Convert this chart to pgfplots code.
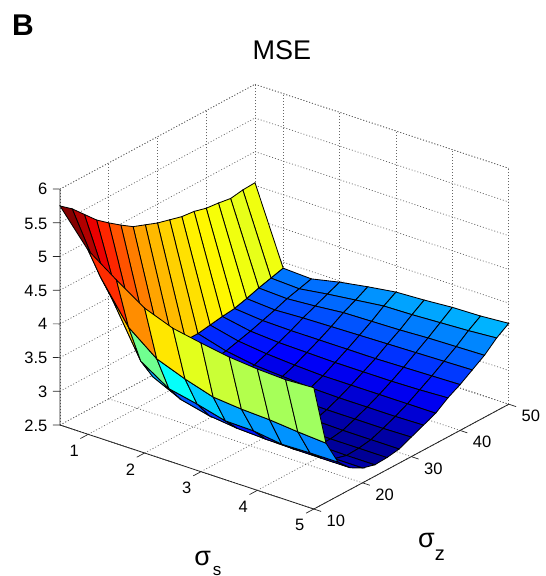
\documentclass[border=0pt]{standalone}
\usepackage{fontspec}
\setmainfont{Liberation Sans}
\usepackage{pgfplots}
\pgfplotsset{compat=1.18}
\usetikzlibrary{calc}
\begin{document}
\begin{tikzpicture}
\begin{axis}[
  name=ax,
  x={(56.4pt,-18.67pt)}, y={(4.875pt,2.62pt)}, z={(0pt,67.4pt)},
  xmin=0.5, xmax=5, ymin=10, ymax=50, zmin=2.5, zmax=6,
  xtick={1,2,3,4,5}, ytick={10,20,30,40,50},
  ztick={2.5,3,3.5,4,4.5,5,5.5,6},
  zticklabels={2.5,3,3.5,4,4.5,5,5.5,6},
  3d box=background,
  axis line style={draw=black!60, dash pattern=on 1pt off 2pt, line width=0.7pt},
  grid=major,
  major grid style={draw=black!60, dash pattern=on 1pt off 2pt, line width=0.7pt},
  tick align=outside,
  tick pos=left,
  major tick length=7pt,
  tick style={draw=none},
  tick label style={font=\fontsize{16.5}{16.5}\selectfont},
  x tick label style={xshift=-2pt,yshift=-3pt},
  y tick label style={xshift=7pt,yshift=2pt},
  z tick label style={xshift=-3pt,yshift=4pt},
  /pgf/number format/assume math mode=true,
  colormap={myjet}{rgb255=(0,0,128) rgb255=(0,0,255) rgb255=(0,128,255) rgb255=(0,255,255) rgb255=(128,255,128) rgb255=(255,255,0) rgb255=(255,128,0) rgb255=(255,0,0) rgb255=(128,0,0)},
  point meta min=2.6, point meta max=5.76,
  clip=false,
  title={\fontsize{27}{27}\selectfont MSE},
  title style={at={(axis cs:0.24,58.5,6)},anchor=center,yshift=1pt},
  xlabel={\fontsize{27}{27}\selectfont σ\kern2pt\raisebox{-10pt}{\fontsize{17}{17}\selectfont s}},
  ylabel={\fontsize{27}{27}\selectfont σ\raisebox{-13pt}{\fontsize{20}{20}\selectfont z}},
  xlabel style={at={(axis cs:4.92,-10.8,2.5)},anchor=center,rotate=0,yshift=-1pt},
  ylabel style={at={(axis cs:7,11,2.5)},anchor=center,rotate=0,yshift=-3pt},
]
\addplot3[surf, shader=flat corner, draw=black, line width=0.85pt, z buffer=sort, mesh/rows=17, mesh/cols=10, mesh/ordering=x varies, point meta=z] table[x=x,y=y,z=z] {
x y z
0.5 10 5.75
1 10 5.23
1.5 10 4.93
2 10 4.65
2.5 10 4.49
3 10 4.41
3.5 10 4.34
4 10 4.30
4.5 10 4.28
5 10 4.30
0.5 12.5 5.61
1 12.5 4.74
1.5 12.5 4.13
2 12.5 3.80
2.5 12.5 3.64
3 12.5 3.51
3.5 12.5 3.47
4 12.5 3.45
4.5 12.5 3.41
5 12.5 3.38
0.5 15 5.43
1 15 4.30
1.5 15 3.53
2 15 3.26
2.5 15 3.17
3 15 3.06
3.5 15 3.05
4 15 2.99
4.5 15 3.00
5 15 3.00
0.5 17.5 5.25
1 17.5 3.85
1.5 17.5 3.20
2 17.5 3.00
2.5 17.5 2.90
3 17.5 2.85
3.5 17.5 2.83
4 17.5 2.82
4.5 17.5 2.82
5 17.5 2.82
0.5 20 5.11
1 20 3.55
1.5 20 3.05
2 20 2.88
2.5 20 2.80
3 20 2.75
3.5 20 2.73
4 20 2.72
4.5 20 2.72
5 20 2.72
0.5 22.5 4.98
1 22.5 3.35
1.5 22.5 2.98
2 22.5 2.83
2.5 22.5 2.76
3 22.5 2.71
3.5 22.5 2.69
4 22.5 2.68
4.5 22.5 2.67
5 22.5 2.67
0.5 25 4.86
1 25 3.22
1.5 25 2.96
2 25 2.82
2.5 25 2.75
3 25 2.71
3.5 25 2.69
4 25 2.68
4.5 25 2.68
5 25 2.68
0.5 27.5 4.79
1 27.5 3.15
1.5 27.5 2.96
2 27.5 2.84
2.5 27.5 2.78
3 27.5 2.74
3.5 27.5 2.72
4 27.5 2.71
4.5 27.5 2.71
5 27.5 2.71
0.5 30 4.72
1 30 3.12
1.5 30 2.98
2 30 2.88
2.5 30 2.83
3 30 2.79
3.5 30 2.78
4 30 2.78
4.5 30 2.78
5 30 2.79
0.5 32.5 4.67
1 32.5 3.12
1.5 32.5 3.00
2 32.5 2.93
2.5 32.5 2.90
3 32.5 2.87
3.5 32.5 2.86
4 32.5 2.86
4.5 32.5 2.86
5 32.5 2.87
0.5 35 4.62
1 35 3.15
1.5 35 3.05
2 35 3.00
2.5 35 2.97
3 35 2.95
3.5 35 2.95
4 35 2.95
4.5 35 2.95
5 35 2.95
0.5 37.5 4.60
1 37.5 3.18
1.5 37.5 3.10
2 37.5 3.07
2.5 37.5 3.06
3 37.5 3.05
3.5 37.5 3.05
4 37.5 3.05
4.5 37.5 3.06
5 37.5 3.08
0.5 40 4.55
1 40 3.20
1.5 40 3.16
2 40 3.15
2.5 40 3.15
3 40 3.15
3.5 40 3.15
4 40 3.16
4.5 40 3.17
5 40 3.18
0.5 42.5 4.53
1 42.5 3.25
1.5 42.5 3.22
2 42.5 3.24
2.5 42.5 3.25
3 42.5 3.26
3.5 42.5 3.27
4 42.5 3.28
4.5 42.5 3.29
5 42.5 3.30
0.5 45 4.50
1 45 3.31
1.5 45 3.29
2 45 3.32
2.5 45 3.36
3 45 3.37
3.5 45 3.38
4 45 3.40
4.5 45 3.41
5 45 3.42
0.5 47.5 4.53
1 47.5 3.36
1.5 47.5 3.34
2 47.5 3.40
2.5 47.5 3.45
3 47.5 3.50
3.5 47.5 3.51
4 47.5 3.53
4.5 47.5 3.55
5 47.5 3.58
0.5 50 4.54
1 50 3.41
1.5 50 3.39
2 50 3.48
2.5 50 3.55
3 50 3.61
3.5 50 3.63
4 50 3.66
4.5 50 3.67
5 50 3.70
};
\coordinate (c0) at (axis cs:0.5,10,2.5);
\coordinate (c1) at (axis cs:5,10,2.5);
\coordinate (c2) at (axis cs:5,50,2.5);
\coordinate (c3) at (axis cs:0.5,10,6);
\pgfplotsinvokeforeach{1,2,3,4,5}{
  \draw[black!85, line width=0.7pt] (axis cs:#1,10,2.5) -- (axis cs:#1,8.4,2.5);
}
\pgfplotsinvokeforeach{10,20,30,40,50}{
  \draw[black!85, line width=0.7pt] (axis cs:5,#1,2.5) -- (axis cs:5.13,#1,2.5);
}
\pgfplotsinvokeforeach{2.5,3,3.5,4,4.5,5,5.5,6}{
  \draw[black!85, line width=0.7pt] (axis cs:0.5,10,#1) -- (axis cs:0.423,9.453,#1);
}
\end{axis}
\draw[black!85, line width=0.8pt] (c3) -- (c0) -- (c1) -- (c2);
\node[font=\bfseries\fontsize{30}{30}\selectfont, anchor=center] at ($(c0)+(-37pt,400pt)$) {B};
\pgfresetboundingbox
\path[use as bounding box] ($(c0)+(-60pt,-151pt)$) rectangle ($(c0)+(486pt,425pt)$);
\end{tikzpicture}
\end{document}
